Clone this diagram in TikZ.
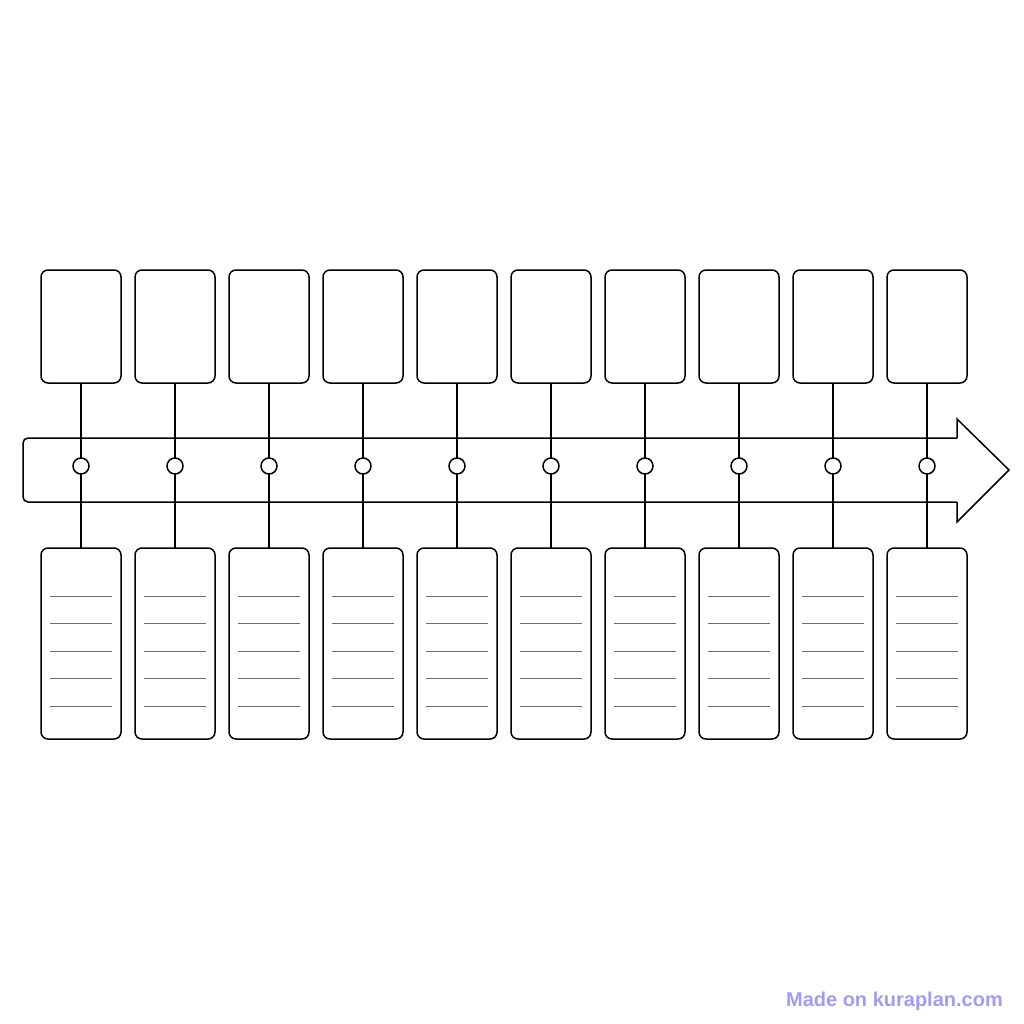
\documentclass[tikz,border=0pt]{standalone}
\usepackage{fontspec}
\newfontfamily\wmfont{Liberation Sans}
\definecolor{wmblue}{RGB}{158,158,240}
\definecolor{rulegray}{RGB}{110,110,110}
\tikzset{
  topbox/.style={draw=black, line width=1.5pt, rounded corners=7pt, fill=white,
    minimum width=80pt, minimum height=113pt, inner sep=0pt, outer sep=0pt},
  botbox/.style={draw=black, line width=1.5pt, rounded corners=7pt, fill=white,
    minimum width=80pt, minimum height=191pt, inner sep=0pt, outer sep=0pt},
  dot/.style={draw=black, line width=1.5pt, circle, fill=white,
    minimum size=16pt, inner sep=0pt, outer sep=0pt},
  link/.style={draw=black, line width=1.5pt},
  rule/.style={draw=rulegray, line width=0.9pt},
  arrowline/.style={draw=black, line width=1.5pt}
}
\begin{document}
\begin{tikzpicture}[x=1pt, y=-1pt]
\useasboundingbox[fill=white] (0,0) rectangle (1024,1024);
% arrow
\fill[white] (23,438) -- (957,438) -- (957,419) -- (1009,470) -- (957,522) -- (957,502) -- (23,502) -- cycle;
\draw[arrowline, rounded corners=5pt] (957,438) -- (23,438) -- (23,502) -- (957,502);
\draw[arrowline, line join=miter] (957,502) -- (957,522) -- (1009,470) -- (957,419) -- (957,438);
% boxes and dots
\foreach \i in {1,...,10} {
  \pgfmathsetmacro{\cx}{81+94*(\i-1)}
  \node[topbox] (t\i) at (\cx,326.5) {};
  \node[botbox] (b\i) at (\cx,643.5) {};
  \coordinate (c\i pos) at (\cx,466);
}
\foreach \i in {1,...,10} {
  \draw[link] (t\i.south) -- (c\i pos);
  \draw[link] (c\i pos) -- (b\i.north);
  \node[dot] (c\i) at (c\i pos) {};
  \foreach \k in {0,...,4} {
    \draw[rule] ([xshift=-31pt, yshift={-48pt-27.5pt*\k}]b\i.north) -- ([xshift=31pt, yshift={-48pt-27.5pt*\k}]b\i.north);
  }
}
% watermark
\node[anchor=base east, inner sep=0pt, text=wmblue, font=\wmfont\bfseries\fontsize{20pt}{24pt}\selectfont] (wm) at (1003,1006) {Made on kuraplan.com};
\end{tikzpicture}
\end{document}
